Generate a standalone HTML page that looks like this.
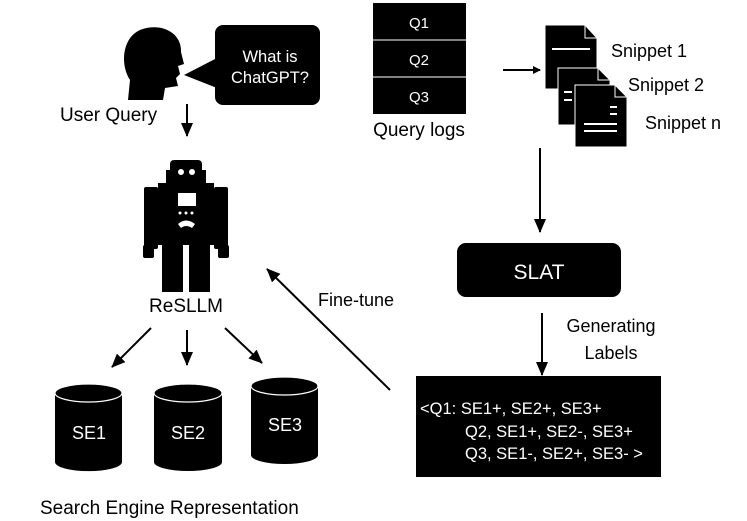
<!DOCTYPE html>
<html><head><style>
body{margin:0;background:#fff;}
svg{display:block;font-family:"Liberation Sans",Arial,sans-serif;}
</style></head><body>
<svg width="747" height="521" viewBox="0 0 747 521" xmlns="http://www.w3.org/2000/svg">
<defs><marker id="a" markerWidth="8" markerHeight="8" refX="7" refY="4" orient="auto" markerUnits="userSpaceOnUse"><path d="M0,0 L8,4 L0,8 z" fill="#000"/></marker>
<marker id="b" markerWidth="14" markerHeight="12" refX="13" refY="6" orient="auto" markerUnits="userSpaceOnUse"><path d="M0,0 L14,6 L0,12 z" fill="#000"/></marker></defs>
<!-- head -->
<path d="M140,30 C160,22 182,32 181,52 L184,64 L178,66 L180,74 L176,78 L178,86 L165,88 L163,100 L128,100 L130,80 C120,65 122,38 140,30 Z" fill="#000"/>
<!-- bubble -->
<rect x="215" y="25" width="105" height="80" rx="8" fill="#000"/>
<path d="M217,58 L184,75 L217,88 Z" fill="#000"/>
<text x="270" y="62" font-size="16.5" fill="#fff" text-anchor="middle">What is</text>
<text x="270" y="83" font-size="16.5" fill="#fff" text-anchor="middle">ChatGPT?</text>
<text x="60" y="121" font-size="19">User Query</text>
<line x1="187" y1="104" x2="187" y2="136" stroke="#000" stroke-width="2" marker-end="url(#b)"/>
<!-- robot -->
<g fill="#000">
<rect x="170" y="160" width="32" height="20" rx="4"/>
<rect x="166" y="170" width="40" height="14"/>
<rect x="158" y="183" width="56" height="62"/>
<rect x="144" y="187" width="14" height="62" rx="2"/>
<rect x="214" y="187" width="14" height="62" rx="2"/>
<rect x="143" y="245" width="11" height="13" rx="2"/>
<rect x="218" y="245" width="11" height="13" rx="2"/>
<rect x="162" y="243" width="21" height="49"/>
<rect x="189" y="243" width="21" height="49"/>
</g>
<circle cx="181" cy="172" r="3" fill="#fff"/><circle cx="192" cy="172" r="3" fill="#fff"/>
<rect x="178" y="193" width="18" height="13" fill="#fff"/>
<circle cx="180" cy="213" r="1.5" fill="#fff"/><circle cx="186" cy="213" r="1.5" fill="#fff"/><circle cx="192" cy="213" r="1.5" fill="#fff"/>
<path d="M178,224 Q186,217 195,224 L192,228 Q186,224 181,228 Z" fill="#fff"/>
<text x="186" y="312" font-size="19" text-anchor="middle">ReSLLM</text>
<!-- fine-tune -->
<line x1="390" y1="390" x2="267" y2="269" stroke="#000" stroke-width="2" marker-end="url(#b)"/>
<text x="318" y="306" font-size="18">Fine-tune</text>
<!-- arrows to SE -->
<line x1="151" y1="328" x2="112" y2="367" stroke="#000" stroke-width="2" marker-end="url(#b)"/>
<line x1="187" y1="330" x2="187" y2="365" stroke="#000" stroke-width="2" marker-end="url(#b)"/>
<line x1="225" y1="328" x2="262" y2="363" stroke="#000" stroke-width="2" marker-end="url(#b)"/>
<!-- cylinders -->
<g>
<path d="M55,393 L55,462 A33,9 0 0 0 122,462 L122,393 Z" fill="#000"/>
<ellipse cx="88.5" cy="393" rx="33.5" ry="9" fill="#000" stroke="#fff" stroke-width="1.2"/>
<text x="89" y="439" font-size="18" fill="#fff" text-anchor="middle">SE1</text>
<path d="M154,393 L154,462 A34,9 0 0 0 222,462 L222,393 Z" fill="#000"/>
<ellipse cx="188" cy="393" rx="34" ry="9" fill="#000" stroke="#fff" stroke-width="1.2"/>
<text x="188" y="439" font-size="18" fill="#fff" text-anchor="middle">SE2</text>
<path d="M251,386 L251,455 A33.5,9 0 0 0 318,455 L318,386 Z" fill="#000"/>
<ellipse cx="284.5" cy="386" rx="33.5" ry="9" fill="#000" stroke="#fff" stroke-width="1.2"/>
<text x="285" y="431" font-size="18" fill="#fff" text-anchor="middle">SE3</text>
</g>
<text x="40" y="514" font-size="19">Search Engine Representation</text>
<!-- query logs -->
<rect x="373" y="3" width="93" height="111" fill="#000"/>
<line x1="373" y1="40" x2="466" y2="40" stroke="#fff" stroke-width="1"/>
<line x1="373" y1="77" x2="466" y2="77" stroke="#fff" stroke-width="1"/>
<text x="419" y="28" font-size="15" fill="#fff" text-anchor="middle">Q1</text>
<text x="419" y="65" font-size="15" fill="#fff" text-anchor="middle">Q2</text>
<text x="419" y="102" font-size="15" fill="#fff" text-anchor="middle">Q3</text>
<text x="419" y="136" font-size="19" text-anchor="middle">Query logs</text>
<line x1="503" y1="70" x2="540" y2="70" stroke="#000" stroke-width="2" marker-end="url(#a)"/>
<!-- docs -->
<g>
<path d="M545,25 L585,25 L597,38 L597,89 L545,89 Z" fill="#000" stroke="#fff" stroke-width="1"/>
<path d="M585,25 L585,38 L597,38 Z" fill="#000" stroke="#fff" stroke-width="1"/>
<line x1="552" y1="49" x2="590" y2="49" stroke="#fff" stroke-width="2"/>
<path d="M558,68 L598,68 L610,80 L610,125 L558,125 Z" fill="#000" stroke="#fff" stroke-width="1"/>
<path d="M598,68 L598,80 L610,80 Z" fill="#000" stroke="#fff" stroke-width="1"/>
<line x1="564" y1="92" x2="572" y2="92" stroke="#fff" stroke-width="2"/>
<line x1="564" y1="100" x2="572" y2="100" stroke="#fff" stroke-width="2"/>
<path d="M575,85 L615,85 L627,97 L627,147 L575,147 Z" fill="#000" stroke="#fff" stroke-width="1"/>
<path d="M615,85 L615,97 L627,97 Z" fill="#000" stroke="#fff" stroke-width="1"/>
<line x1="610" y1="107" x2="617" y2="107" stroke="#fff" stroke-width="2"/>
<line x1="610" y1="114" x2="617" y2="114" stroke="#fff" stroke-width="2"/>
<line x1="584" y1="124" x2="617" y2="124" stroke="#fff" stroke-width="2"/>
<line x1="584" y1="131" x2="617" y2="131" stroke="#fff" stroke-width="2"/>
</g>
<text x="611" y="57" font-size="18">Snippet 1</text>
<text x="628" y="91" font-size="18">Snippet 2</text>
<text x="645" y="129" font-size="18">Snippet n</text>
<line x1="540" y1="148" x2="540" y2="232" stroke="#000" stroke-width="2" marker-end="url(#b)"/>
<rect x="457" y="243" width="164" height="54" rx="9" fill="#000"/>
<text x="539" y="279" font-size="21" fill="#fff" text-anchor="middle">SLAT</text>
<line x1="542" y1="313" x2="542" y2="375" stroke="#000" stroke-width="2" marker-end="url(#b)"/>
<text x="611" y="332" font-size="18" text-anchor="middle">Generating</text>
<text x="611" y="359" font-size="18" text-anchor="middle">Labels</text>
<rect x="416" y="376" width="245" height="101" fill="#000"/>
<g font-size="16.5" fill="#fff">
<text x="420" y="414">&lt;Q1: SE1+, SE2+, SE3+</text>
<text x="465" y="437">Q2, SE1+, SE2-, SE3+</text>
<text x="465" y="459">Q3, SE1-, SE2+, SE3-  &gt;</text>
</g>
</svg>
</body></html>
